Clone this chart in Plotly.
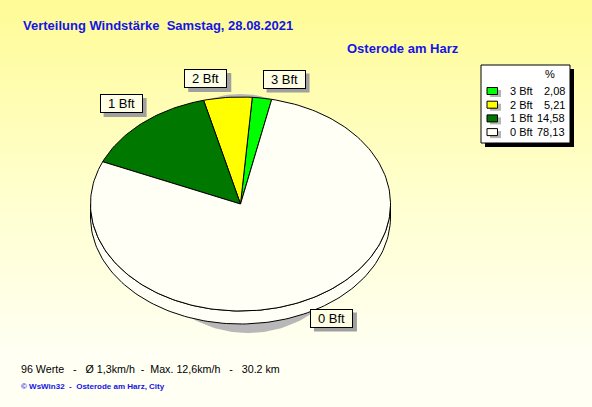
import numpy as np
import plotly.graph_objects as go

# ---- data ----
categories = ["3 Bft", "2 Bft", "1 Bft", "0 Bft"]
percent = [2.08, 5.21, 14.58, 78.13]
percent_labels = ["2,08", "5,21", "14,58", "78,13"]
colors = ["#00FF00", "#FFFF00", "#007800", "#FFFFF6"]
title_text = "Verteilung Windstärke  Samstag, 28.08.2021"
station = "Osterode am Harz"
footer = "96 Werte   -   Ø 1,3km/h  -  Max. 12,6km/h   -   30.2 km"
credit = "© WsWin32  -  Osterode am Harz, City"

# ---- geometry (pixel space) ----
W, H = 592, 407
CX, CY, RX, RY, DEPTH = 240.5, 204.0, 150.0, 107.0, 13.0
START = 12.0  # degrees clockwise from top where first slice ends

def ell(theta_deg, dy=0.0, cx=CX, cy=CY, rx=RX, ry=RY):
    t = np.radians(theta_deg)
    return cx + rx * np.sin(t), cy - ry * np.cos(t) + dy

fig = go.Figure()
NB = "\u00a0"
FONT = "Liberation Sans, Arial, sans-serif"

# background gradient
fig.add_trace(go.Scatter(
    x=[0, W, W, 0, 0], y=[0, 0, H, H, 0], mode="lines", fill="toself",
    line=dict(width=0), hoverinfo="skip", showlegend=False,
    fillgradient=dict(type="vertical", colorscale=[[0, "#FFFB96"], [0.55, "#FFFFCF"], [1, "#FFFFF4"]],
                      start=0, stop=360)))

# shadows
for (scx, scy, srx, sry) in [(248, 224, 112, 109), (240.5, 200, 100, 106)]:
    th = np.linspace(0, 360, 200)
    sx, sy = ell(th, cx=scx, cy=scy, rx=srx, ry=sry)
    fig.add_trace(go.Scatter(x=sx, y=sy, mode="lines", fill="toself", fillcolor="#B8B8B8",
                             line=dict(width=0), hoverinfo="skip", showlegend=False))

# side band (lower half)
th = np.linspace(90, 270, 120)
tx, ty = ell(th)
bx, by = ell(th[::-1], dy=DEPTH)
fig.add_trace(go.Scatter(x=np.concatenate([tx, bx, tx[:1]]), y=np.concatenate([ty, by, ty[:1]]),
                         mode="lines", fill="toself", fillcolor=colors[3],
                         line=dict(color="black", width=1), hoverinfo="skip", showlegend=False))

# top face slices (counterclockwise from START)
bounds = []
end = START
for p in percent:
    beg = end - p * 3.6
    bounds.append((beg, end))
    end = beg
for (b, e), c, name in zip(bounds, colors, categories):
    th = np.linspace(b, e, max(int((e - b) / 1.5), 4))
    px, py = ell(th)
    fig.add_trace(go.Scatter(x=np.concatenate([[CX], px, [CX]]), y=np.concatenate([[CY], py, [CY]]),
                             mode="lines", fill="toself", fillcolor=c, name=name,
                             line=dict(color="black", width=1), hoverinfo="skip", showlegend=False))

shapes = []
annotations = []

# slice labels
LW, LH = 43, 19
for (b, e), name in zip(bounds, categories):
    m = (b + e) / 2
    px, py = ell(m)
    sx = 1 if np.sin(np.radians(m)) >= 0 else -1
    sy = -1 if np.cos(np.radians(m)) >= 0 else 1
    lx, ly = px + sx * 22, py + sy * 19
    shapes.append(dict(type="rect", xref="x", yref="y", x0=lx - LW / 2 + 4, x1=lx + LW / 2 + 4,
                       y0=ly - LH / 2 + 4, y1=ly + LH / 2 + 4, fillcolor="#A0A0A0", line=dict(width=0),
                       layer="above"))
    annotations.append(dict(xref="x", yref="y", x=lx, y=ly, text=name, showarrow=False,
                            font=dict(family=FONT, size=13, color="black"),
                            bgcolor="#FFFFE6", bordercolor="black", borderwidth=1, borderpad=1,
                            width=LW - 4, height=LH - 4, xanchor="center", yanchor="middle"))

# legend box
shapes.append(dict(type="rect", xref="x", yref="y", x0=485, x1=574, y0=69, y1=147,
                   fillcolor="black", line=dict(width=0), layer="above"))
shapes.append(dict(type="rect", xref="x", yref="y", x0=481, x1=570, y0=65, y1=143,
                   fillcolor="white", line=dict(color="black", width=1), layer="above"))
annotations.append(dict(xref="x", yref="y", x=550, y=74, text="%", showarrow=False,
                        font=dict(family=FONT, size=11, color="black"), xanchor="center", yanchor="middle"))
for i, (name, val, c) in enumerate(zip(categories, percent_labels, colors)):
    ry = 91 + i * 13.7
    shapes.append(dict(type="rect", xref="x", yref="y", x0=490, x1=501, y0=ry - 1, y1=ry + 6,
                       fillcolor="#B4B4B4", line=dict(width=0), layer="above"))
    shapes.append(dict(type="rect", xref="x", yref="y", x0=487, x1=497.5, y0=ry - 3.5, y1=ry + 3.5,
                       fillcolor=c, line=dict(color="black", width=1), layer="above"))
    annotations.append(dict(xref="x", yref="y", x=508, y=ry, text=name, showarrow=False,
                            font=dict(family=FONT, size=11, color="black"), xanchor="left", yanchor="middle"))
    annotations.append(dict(xref="x", yref="y", x=567, y=ry, text=val, showarrow=False,
                            font=dict(family=FONT, size=11, color="black"), xanchor="right", yanchor="middle"))

# texts
annotations.append(dict(xref="x", yref="y", x=21, y=25, text="<b>" + title_text + "</b>", showarrow=False,
                        font=dict(family=FONT, size=13, color="#1414E6"), xanchor="left", yanchor="middle"))
annotations.append(dict(xref="x", yref="y", x=345, y=48, text="<b>" + station + "</b>", showarrow=False,
                        font=dict(family=FONT, size=13, color="#1414E6"), xanchor="left", yanchor="middle"))
annotations.append(dict(xref="x", yref="y", x=19, y=369, text=footer.replace(" ", NB), showarrow=False,
                        font=dict(family=FONT, size=10.7, color="black"), xanchor="left", yanchor="middle"))
annotations.append(dict(xref="x", yref="y", x=19, y=386, text="<b>" + credit.replace(" ", NB) + "</b>",
                        showarrow=False, font=dict(family=FONT, size=8, color="#1414E6"),
                        xanchor="left", yanchor="middle"))

fig.update_layout(
    width=W, height=H, autosize=False,
    margin=dict(l=0, r=0, t=0, b=0, pad=0),
    paper_bgcolor="#FFFFF4", plot_bgcolor="rgba(0,0,0,0)",
    xaxis=dict(range=[0, W], visible=False, fixedrange=True),
    yaxis=dict(range=[H, 0], visible=False, fixedrange=True),
    shapes=shapes, annotations=annotations, showlegend=False,
)
fig.write_html("out.html", config=dict(displayModeBar=False, staticPlot=True),
               post_script="document.body.style.margin='0';document.body.style.padding='0';"
                           "document.body.style.overflow='hidden';")
